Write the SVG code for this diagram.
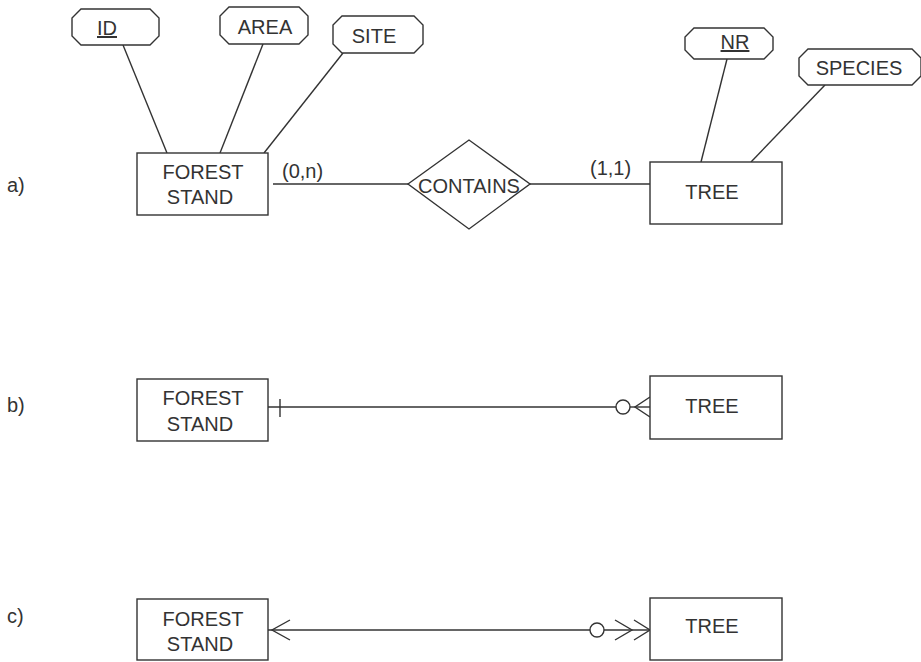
<svg xmlns="http://www.w3.org/2000/svg" width="921" height="662" viewBox="0 0 921 662">
<style>
.s{fill:none;stroke:#333;stroke-width:1.4}
.b{fill:#fff;stroke:#333;stroke-width:1.4}
text{font-family:"Liberation Sans",Arial,sans-serif;font-size:20px;fill:#333}
.m{text-anchor:middle}
.u{text-decoration:underline}
</style>
<rect width="921" height="662" fill="#fff"/>
<g id="labels">
<text x="7" y="192">a)</text>
<text x="7" y="412">b)</text>
<text x="7" y="623">c)</text>
</g>
<g id="connectors">
<line class="s" x1="123" y1="45" x2="167" y2="153"/>
<line class="s" x1="263" y1="44" x2="220" y2="153"/>
<line class="s" x1="343" y1="53" x2="264" y2="153"/>
<line class="s" x1="727" y1="59" x2="701" y2="162"/>
<line class="s" x1="825" y1="85" x2="751" y2="162"/>
<line class="s" x1="273" y1="184" x2="408" y2="184"/>
<line class="s" x1="530" y1="184" x2="650" y2="184"/>
<text x="282" y="178">(0,n)</text>
<text x="590" y="175">(1,1)</text>
<line class="s" x1="268" y1="407" x2="616" y2="407"/>
<line class="s" x1="280" y1="399" x2="280" y2="417"/>
<circle class="s" cx="623" cy="407" r="7"/>
<line class="s" x1="630" y1="407" x2="650" y2="407"/>
<polyline class="s" points="650,397 635,407 650,417"/>
<line class="s" x1="268" y1="630" x2="590" y2="630"/>
<polyline class="s" points="290,620 272,630 290,640"/>
<circle class="s" cx="597" cy="630" r="7"/>
<line class="s" x1="604" y1="630" x2="650" y2="630"/>
<polyline class="s" points="615,620 632,630 615,640"/>
<polyline class="s" points="634,620 650,630 634,640"/>
</g>
<g id="attr-id"><polygon class="b" points="81,9 150,9 159,18 159,36 150,45 81,45 72,36 72,18"/><text class="m u" x="107" y="35">ID</text></g>
<g id="attr-area"><polygon class="b" points="229,7 299,7 308,16 308,35 299,44 229,44 220,35 220,16"/><text class="m" x="265" y="34">AREA</text></g>
<g id="attr-site"><polygon class="b" points="342,16 414,16 423,25 423,44 414,53 342,53 333,44 333,25"/><text class="m" x="374" y="43">SITE</text></g>
<g id="attr-nr"><polygon class="b" points="694,28 764,28 773,37 773,50 764,59 694,59 685,50 685,37"/><text class="m u" x="735" y="49">NR</text></g>
<g id="attr-species"><polygon class="b" points="808,49 912,49 921,58 921,76 912,85 808,85 799,76 799,58"/><text class="m" x="859" y="75">SPECIES</text></g>
<g id="forest-stand-a"><rect class="b" x="137" y="153" width="131" height="62"/><text class="m" x="203" y="179">FOREST</text><text class="m" x="200" y="204">STAND</text></g>
<g id="contains"><polygon class="b" points="408,184 469,140 530,184 469,229"/><text class="m" x="469" y="193">CONTAINS</text></g>
<g id="tree-a"><rect class="b" x="650" y="162" width="132" height="62"/><text class="m" x="712" y="199">TREE</text></g>
<g id="forest-stand-b"><rect class="b" x="137" y="379" width="131" height="62"/><text class="m" x="203" y="405">FOREST</text><text class="m" x="200" y="431">STAND</text></g>
<g id="tree-b"><rect class="b" x="650" y="376" width="132" height="63"/><text class="m" x="712" y="413">TREE</text></g>
<g id="forest-stand-c"><rect class="b" x="137" y="599" width="131" height="61"/><text class="m" x="203" y="626">FOREST</text><text class="m" x="200" y="651">STAND</text></g>
<g id="tree-c"><rect class="b" x="650" y="598" width="132" height="62"/><text class="m" x="712" y="633">TREE</text></g>
</svg>
